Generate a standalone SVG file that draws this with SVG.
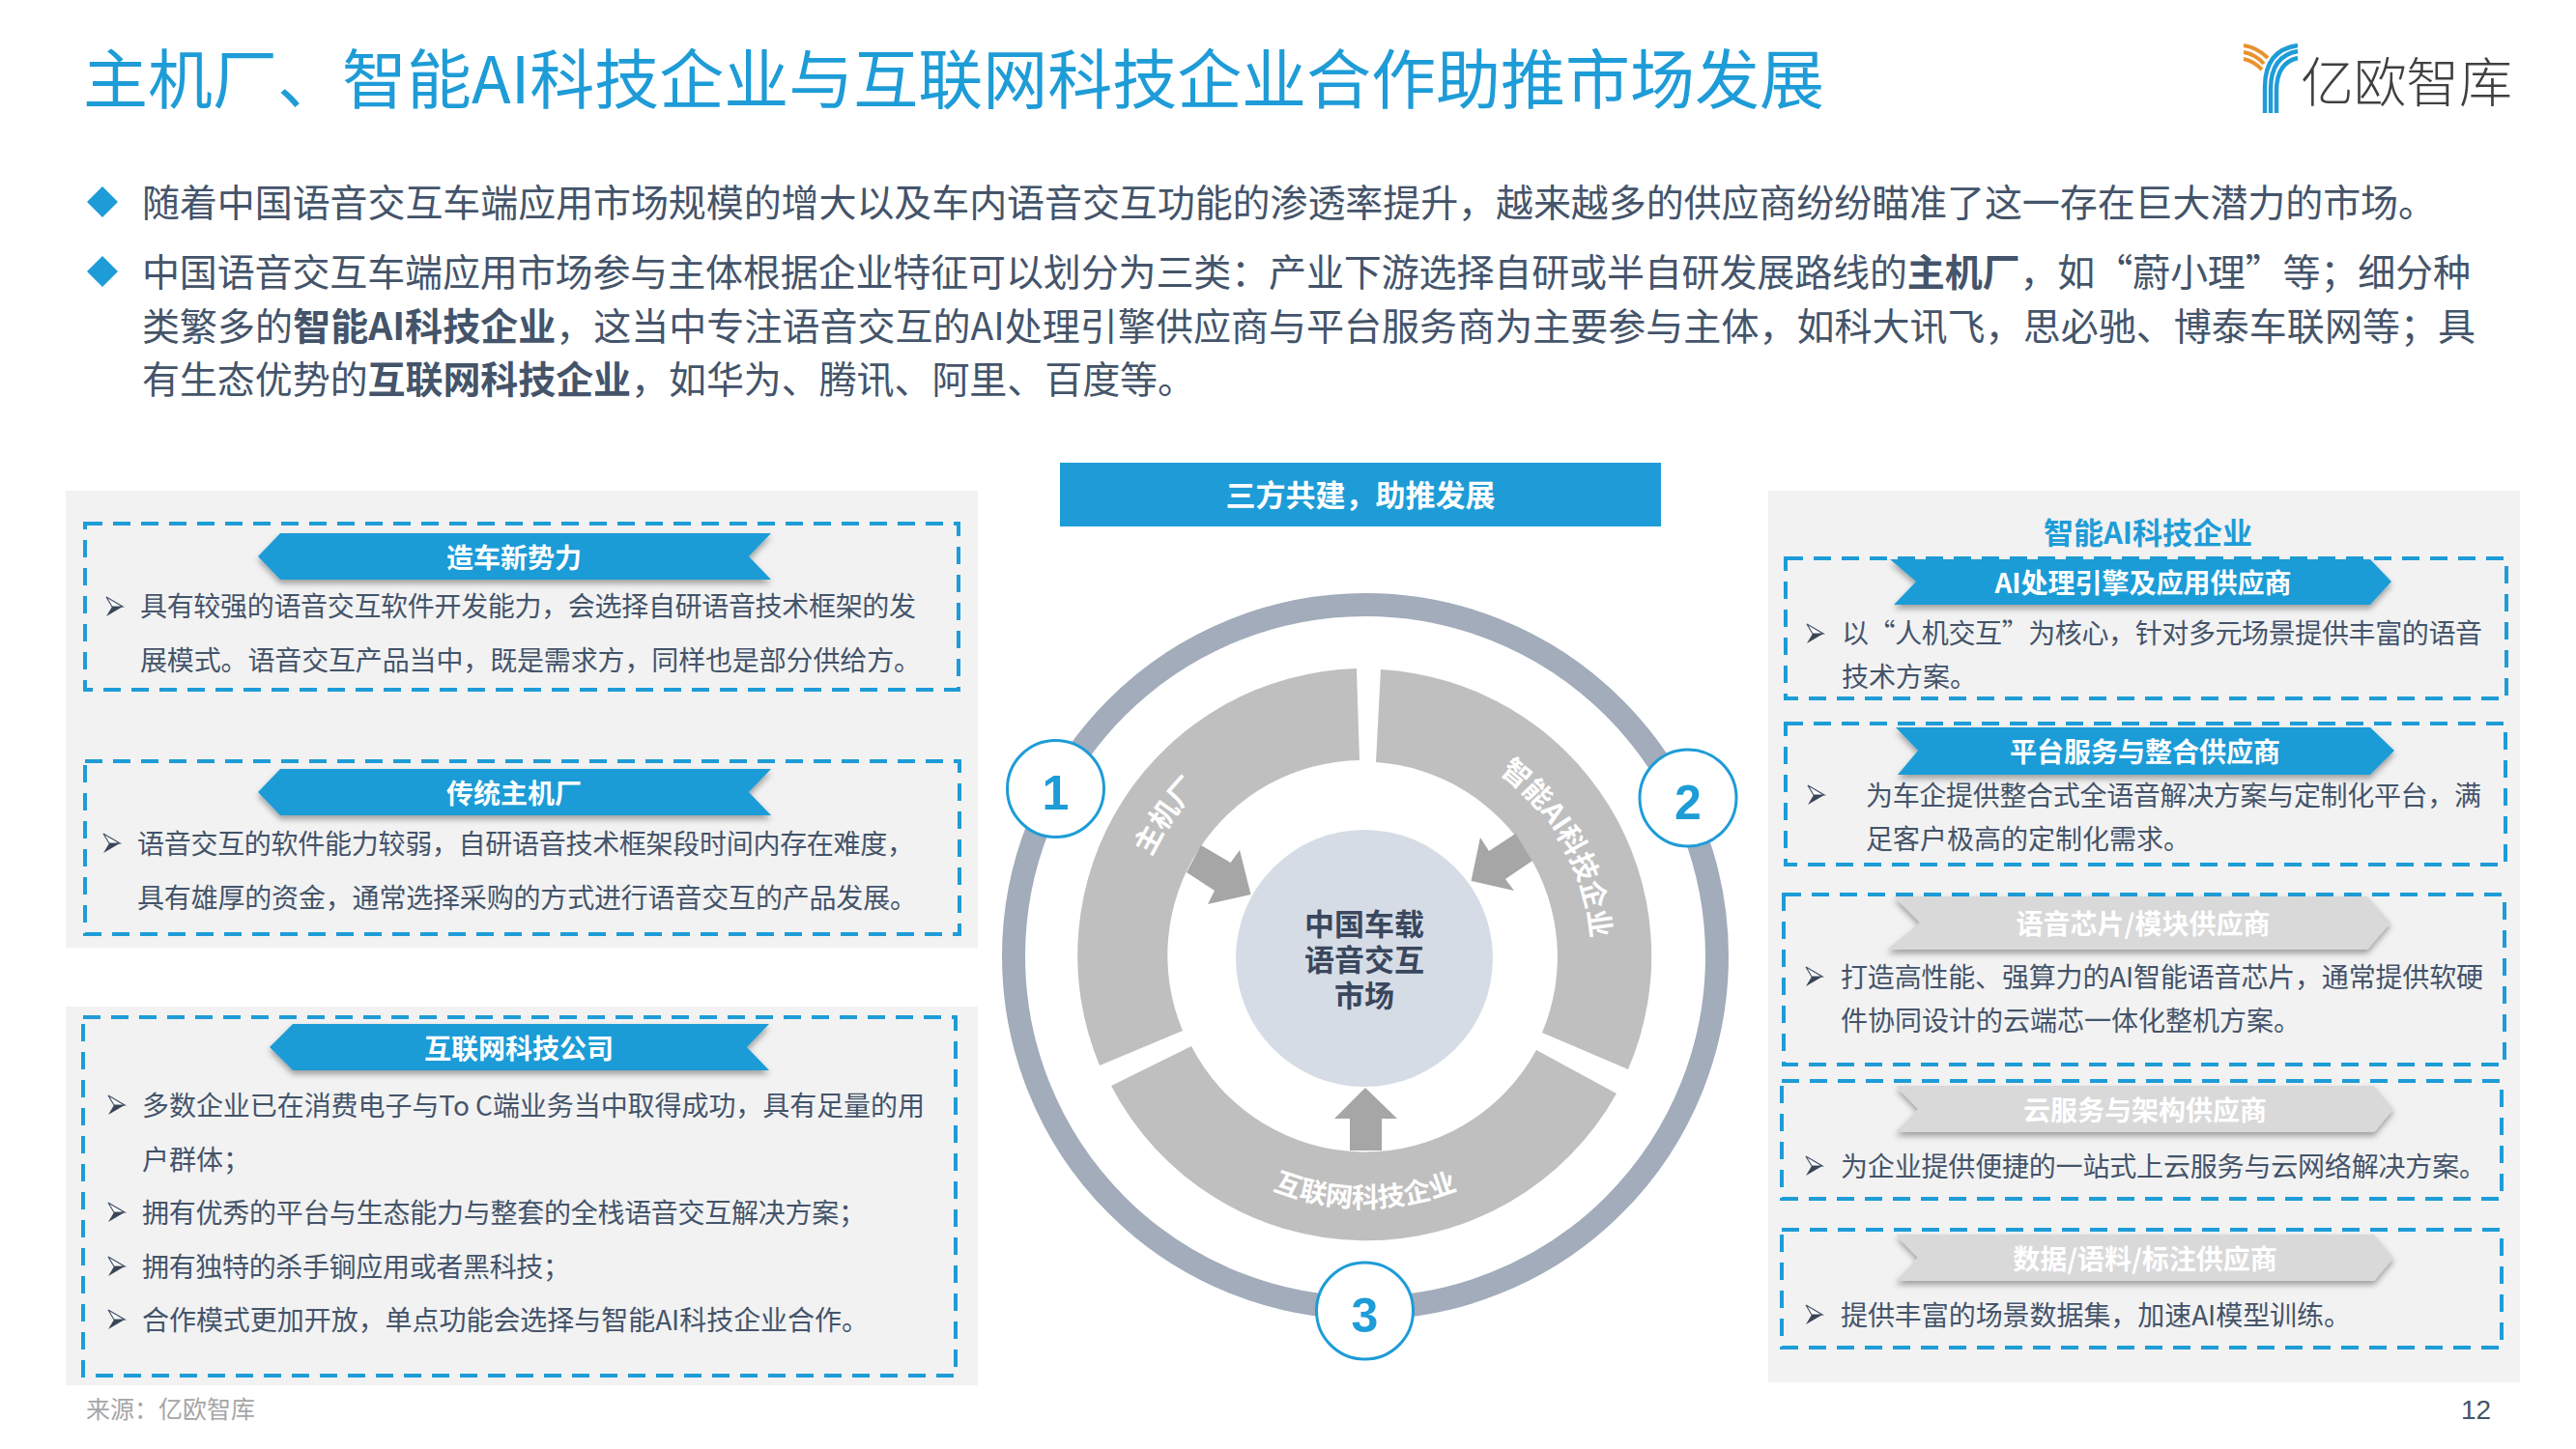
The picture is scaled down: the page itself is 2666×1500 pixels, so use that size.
<svg xmlns="http://www.w3.org/2000/svg" width="2666" height="1500" viewBox="0 0 2666 1500">
<style>
text{font-family:"Noto Sans CJK SC","Liberation Sans",sans-serif}
.title{font-size:67px;fill:#1E9CD7}
.lead{font-size:39px;fill:#44546A}
.b{font-weight:700}
.body{font-size:28px;fill:#44546A}
.panel{fill:#F2F2F2}
.dash{fill:none;stroke:#1E9CD7;stroke-width:4;stroke-dasharray:18 11}
.blue{fill:#1E9CD7}
.grey{fill:#D9D9D9}
.ban{font-size:28px;font-weight:700;fill:#fff;text-anchor:middle}
.seg{fill:#BFBFBF}
.arr{fill:#A6A6A6}
.ringt{font-size:29px;font-weight:700;fill:#fff;text-anchor:middle}
.num{fill:#fff;stroke:#1E9CD7;stroke-width:3}
.digit{font-family:"Liberation Sans",sans-serif;font-size:50px;font-weight:700;fill:#1E9CD7;text-anchor:middle}
.ctr{font-size:31px;font-weight:700;fill:#3A475C;text-anchor:middle}
</style>
<defs>
<filter id="sh" x="-5%" y="-20%" width="110%" height="150%"><feDropShadow dx="0" dy="4" stdDeviation="3" flood-color="#000" flood-opacity=".35"/></filter>
<g id="bu"><path d="M0,0 L17,10 L6,10Z" fill="#fff" stroke="#44546A" stroke-width="1.2"/><path d="M0,20 L17,10 L6,10Z" fill="#3A4658"/></g>
<path id="pa" d="M1170,968A244,244 0 0 1 1310,768"/>
<path id="pb" d="M1530,786A234,234 0 0 1 1647,997"/>
<path id="pc" d="M1260,1200A260,260 0 0 0 1566,1200"/>
</defs>
<rect width="2666" height="1500" fill="#fff"/>
<text id="title" class="title" x="86" y="107" textLength="1802">主机厂、智能AI科技企业与互联网科技企业合作助推市场发展</text>
<g id="logo">
<g fill="none" stroke="#E8922E" stroke-width="4"><path d="M2322,47Q2336,49 2347,60"/><path d="M2322,54Q2334,56 2343,66"/><path d="M2322,61Q2332,63 2341,72"/></g>
<g fill="none" stroke="#1E9CD7" stroke-width="4.4"><path d="M2344,117V90Q2344,52 2378,47"/><path d="M2350,117V92Q2350,58 2378,53"/><path d="M2356,117V94Q2356,65 2378,60"/></g>
<text x="2381" y="105" font-size="55" font-weight="300" fill="#404040" textLength="219">亿欧智库</text>
</g>
<g id="lead">
<path class="blue" d="M106,193L122,209L106,225L90,209Z"/><path class="blue" d="M106,265L122,281L106,297L90,281Z"/>
<text class="lead" x="147" y="224" textLength="2374">随着中国语音交互车端应用市场规模的增大以及车内语音交互功能的渗透率提升，越来越多的供应商纷纷瞄准了这一存在巨大潜力的市场。</text>
<text class="lead" x="147" y="296" textLength="2410">中国语音交互车端应用市场参与主体根据企业特征可以划分为三类：产业下游选择自研或半自研发展路线的<tspan class="b">主机厂</tspan>，如“蔚小理”等；细分种</text>
<text class="lead" x="147" y="352" textLength="2415">类繁多的<tspan class="b">智能AI科技企业</tspan>，这当中专注语音交互的AI处理引擎供应商与平台服务商为主要参与主体，如科大讯飞，思必驰、博泰车联网等；具</text>
<text class="lead" x="147" y="407" textLength="1090">有生态优势的<tspan class="b">互联网科技企业</tspan>，如华为、腾讯、阿里、百度等。</text>
</g>
<rect class="panel" x="68" y="508" width="944" height="473"/>
<rect class="panel" x="68" y="1042" width="944" height="392"/>
<rect class="panel" x="1830" y="508" width="778" height="923"/>
<g id="box-xinshili">
<rect class="dash" x="88" y="542" width="904" height="172"/>
<path class="blue" filter="url(#sh)" d="M267,576L290,552H798L775,576L798,600H290Z"/>
<text class="ban" x="532" y="588">造车新势力</text>
<use href="#bu" x="110" y="618"/>
<text class="body" x="145" y="638" textLength="803">具有较强的语音交互软件开发能力，会选择自研语音技术框架的发</text>
<text class="body" x="145" y="694" textLength="808">展模式。语音交互产品当中，既是需求方，同样也是部分供给方。</text>
</g>
<g id="box-chuantong">
<rect class="dash" x="88" y="788" width="905" height="179"/>
<path class="blue" filter="url(#sh)" d="M267,820L290,796H798L775,820L798,844H290Z"/>
<text class="ban" x="532" y="832">传统主机厂</text>
<use href="#bu" x="107" y="863"/>
<text class="body" x="142" y="884" textLength="804">语音交互的软件能力较弱，自研语音技术框架段时间内存在难度，</text>
<text class="body" x="142" y="940" textLength="807">具有雄厚的资金，通常选择采购的方式进行语音交互的产品发展。</text>
</g>
<g id="box-hulianwang">
<rect class="dash" x="86" y="1053" width="903" height="371"/>
<path class="blue" filter="url(#sh)" d="M279,1084L303,1060H796L773,1084L796,1108H303Z"/>
<text class="ban" x="537" y="1096">互联网科技公司</text>
<use href="#bu" x="112" y="1134"/>
<text class="body" x="147" y="1155" textLength="810">多数企业已在消费电子与To C端业务当中取得成功，具有足量的用</text>
<text class="body" x="147" y="1211">户群体；</text>
<use href="#bu" x="112" y="1245"/>
<text class="body" x="147" y="1266" textLength="749">拥有优秀的平台与生态能力与整套的全栈语音交互解决方案；</text>
<use href="#bu" x="112" y="1301"/>
<text class="body" x="147" y="1322" textLength="443">拥有独特的杀手锏应用或者黑科技；</text>
<use href="#bu" x="112" y="1356"/>
<text class="body" x="147" y="1377" textLength="752">合作模式更加开放，单点功能会选择与智能AI科技企业合作。</text>
</g>
<g id="center">
<rect class="blue" x="1097" y="479" width="622" height="66"/>
<text x="1408" y="524" font-size="31" font-weight="700" fill="#fff" text-anchor="middle">三方共建，助推发展</text>
<circle cx="1413" cy="990" r="364" fill="none" stroke="#A2ACBA" stroke-width="24"/>
<path id="seg1" class="seg" d="M1404,692A297,297 0 0 0 1138,1103L1224,1067A202,202 0 0 1 1407,787Z"/>
<path id="seg2" class="seg" d="M1429,693A297,297 0 0 1 1685,1107L1596,1069A202,202 0 0 0 1424,789Z"/>
<path id="seg3" class="seg" d="M1150,1124A297,297 0 0 0 1673,1132L1590,1087A202,202 0 0 1 1233,1083Z"/>
<path class="arr" d="M1413,1126L1446,1158H1430V1191H1397V1158H1381Z"/>
<path class="arr" d="M1294.500,926L1283,880L1273.600,893L1243,875L1228,903L1257,922L1250,936Z"/>
<path class="arr" d="M1522.500,912L1532,867L1541,881L1568.500,863L1586,891L1558,910L1567,922Z"/>
<circle cx="1412" cy="992" r="133" fill="#D5DCE6"/>
<text class="ctr"><tspan x="1412" y="968">中国车载</tspan><tspan x="1412" y="1005">语音交互</tspan><tspan x="1412" y="1042">市场</tspan></text>
<text class="ringt"><textPath href="#pa" startOffset="50%">主机厂</textPath></text>
<text class="ringt"><textPath href="#pb" startOffset="50%">智能AI科技企业</textPath></text>
<text class="ringt" style="font-size:28px"><textPath href="#pc" startOffset="50%">互联网科技企业</textPath></text>
</g>
<g id="n1"><circle class="num" cx="1092.500" cy="816.500" r="50"/><text class="digit" x="1092.500" y="838">1</text></g>
<g id="n2"><circle class="num" cx="1747" cy="826" r="50"/><text class="digit" x="1747" y="848">2</text></g>
<g id="n3"><circle class="num" cx="1412.500" cy="1357" r="50"/><text class="digit" x="1412.500" y="1379">3</text></g>
<text x="2223" y="563" font-size="31" font-weight="700" fill="#1E9CD7" text-anchor="middle">智能AI科技企业</text>
<g id="r1">
<rect class="dash" x="1848" y="578" width="746" height="145"/>
<path class="blue" filter="url(#sh)" d="M1956,579H2453L2475,602L2453,626H1960L1983,602Z"/>
<text class="ban" x="2218" y="614">AI处理引擎及应用供应商</text>
<use href="#bu" x="1870" y="646"/>
<text class="body" x="1906" y="666" textLength="663">以“人机交互”为核心，针对多元场景提供丰富的语音</text>
<text class="body" x="1906" y="711">技术方案。</text>
</g>
<g id="r2">
<rect class="dash" x="1848" y="749" width="745" height="146"/>
<path class="blue" filter="url(#sh)" d="M1962,753H2453L2478,777L2453,802H1964L1985,777Z"/>
<text class="ban" x="2220" y="789">平台服务与整合供应商</text>
<use href="#bu" x="1871" y="813"/>
<text class="body" x="1931" y="834" textLength="637">为车企提供整合式全语音解决方案与定制化平台，满</text>
<text class="body" x="1931" y="879">足客户极高的定制化需求。</text>
</g>
<g id="r3">
<rect class="dash" x="1846" y="926" width="746" height="176"/>
<path class="grey" filter="url(#sh)" d="M1960,928H2450L2474,955L2450,983H1953L1987,955Z"/>
<text class="ban" x="2218" y="967">语音芯片/模块供应商</text>
<use href="#bu" x="1869" y="1001"/>
<text class="body" x="1905" y="1022" textLength="665">打造高性能、强算力的AI智能语音芯片，通常提供软硬</text>
<text class="body" x="1905" y="1067">件协同设计的云端芯一体化整机方案。</text>
</g>
<g id="r4">
<rect class="dash" x="1844" y="1119" width="745" height="122"/>
<path class="grey" filter="url(#sh)" d="M1962,1124H2457L2477,1148L2457,1172H1962L1985,1148Z"/>
<text class="ban" x="2220" y="1160">云服务与架构供应商</text>
<use href="#bu" x="1869" y="1197"/>
<text class="body" x="1905" y="1218" textLength="668">为企业提供便捷的一站式上云服务与云网络解决方案。</text>
</g>
<g id="r5">
<rect class="dash" x="1844" y="1273" width="745" height="122"/>
<path class="grey" filter="url(#sh)" d="M1962,1278H2457L2477,1302L2457,1326H1962L1985,1302Z"/>
<text class="ban" x="2220" y="1314">数据/语料/标注供应商</text>
<use href="#bu" x="1869" y="1351"/>
<text class="body" x="1905" y="1372" textLength="528">提供丰富的场景数据集，加速AI模型训练。</text>
</g>
<text id="source" x="89" y="1468" font-size="25" fill="#A6A6A6">来源：亿欧智库</text>
<text id="page" x="2547" y="1469" font-size="28" fill="#44546A" style="font-family:'Liberation Sans',sans-serif">12</text>
</svg>
